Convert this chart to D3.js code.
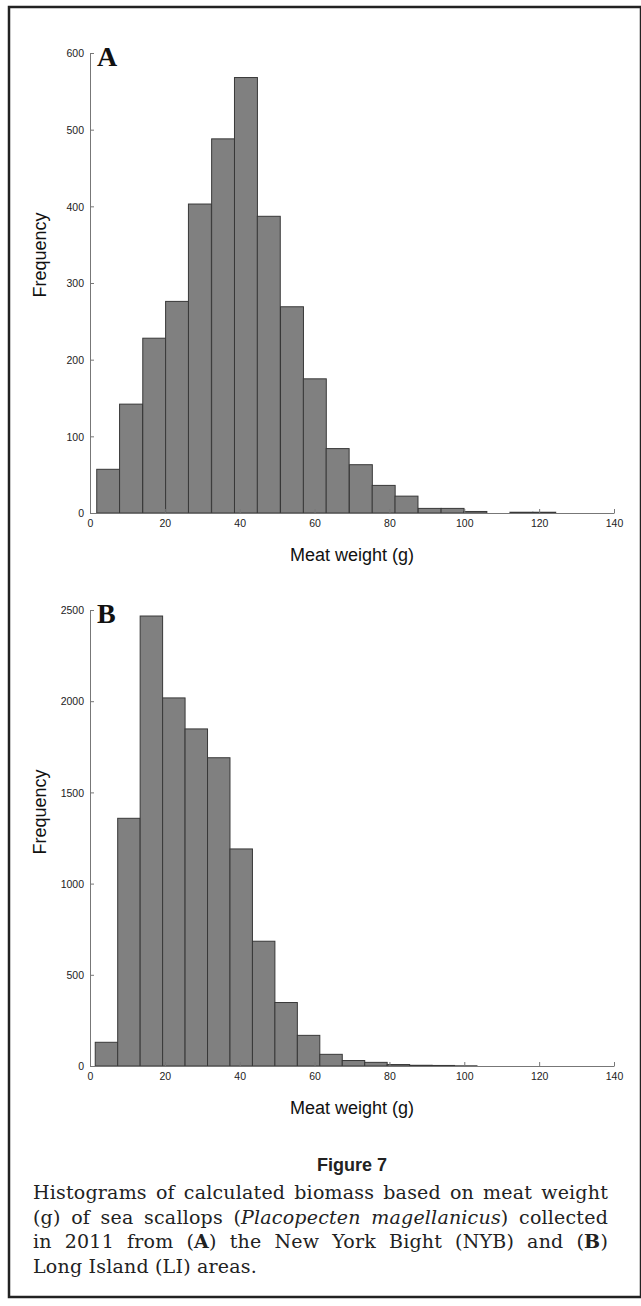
<!DOCTYPE html>
<html>
<head>
<meta charset="utf-8">
<script src="https://cdn.jsdelivr.net/npm/d3@7"></script>
<style>
  body { margin: 0; background: #fff; }
  svg { display: block; }
</style>
</head>
<body>
<div id="chart-area"></div>
<script>
// lower bin edges (g), bin widths and counts
var binsA = [1.8, 7.9, 14.1, 20.2, 26.3, 32.5, 38.6, 44.7, 50.9, 57.0, 63.1, 69.3, 75.4, 81.5, 87.7, 93.8, 99.9, 106.1, 112.2, 118.3];
var widthA = 6.13;
var countsA = [57, 142, 228, 276, 403, 488, 568, 387, 269, 175, 84, 63, 36, 22, 6, 6, 2, 0, 1, 1];

var binsB = [1.4, 7.4, 13.4, 19.4, 25.4, 31.4, 37.4, 43.4, 49.4, 55.4, 61.4, 67.4, 73.4, 79.4, 85.4, 91.4, 97.4, 103.4, 109.4, 115.4];
var widthB = 6.0;
var countsB = [130, 1358, 2467, 2018, 1848, 1690, 1190, 684, 348, 168, 64, 30, 20, 8, 4, 3, 1, 0, 0, 0];

var xTicks = [0, 20, 40, 60, 80, 100, 120, 140];
var yTicksA = [0, 100, 200, 300, 400, 500, 600];
var yTicksB = [0, 500, 1000, 1500, 2000, 2500];

var captionLines = [
    [["Histograms of calculated biomass based on meat weight", ""]],
    [["(g) of sea scallops (", ""], ["Placopecten magellanicus", "i"], [") collected", ""]],
    [["in 2011 from (", ""], ["A", "b"], [") the New York Bight (NYB) and (", ""], ["B", "b"], [")", ""]],
    [["Long Island (LI) areas.", ""]]
];

var W = 641, H = 1306;

var svg = d3.select("#chart-area")
    .append("svg")
    .attr("width", W)
    .attr("height", H);

// outer frame
svg.append("rect")
    .attr("x", 9).attr("y", 7)
    .attr("width", 632).attr("height", 1290)
    .attr("fill", "none")
    .attr("stroke", "#222")
    .attr("stroke-width", 2.5);

var x = d3.scaleLinear().domain([0, 140]).range([90, 614]);

function drawPanel(bins, bw, counts, yMax, yTop, yBottom, yTicks, letter, ylabelY)
{
    var y = d3.scaleLinear().domain([0, yMax]).range([yBottom, yTop]);
    var g = svg.append("g");

    g.selectAll(".bar")
        .data(counts)
        .enter()
        .append("rect")
        .attr("x", function(d, i){ return x(bins[i]); })
        .attr("width", function(d, i){ return x(bins[i] + bw) - x(bins[i]); })
        .attr("y", function(d){ return y(d); })
        .attr("height", function(d){ return y(0) - y(d); })
        .attr("fill", "#808080")
        .attr("stroke", "#383838")
        .attr("stroke-width", 1);

    var xAxis = g.append("g")
        .attr("transform", "translate(0," + yBottom + ")")
        .call(d3.axisBottom(x).tickValues(xTicks).tickFormat(d3.format("d"))
            .tickSizeInner(-4).tickSizeOuter(0).tickPadding(7));

    var yAxis = g.append("g")
        .attr("transform", "translate(90,0)")
        .call(d3.axisLeft(y).tickValues(yTicks).tickFormat(d3.format("d"))
            .tickSizeInner(-4).tickSizeOuter(0).tickPadding(6));

    [xAxis, yAxis].forEach(function(a){
        a.select(".domain").attr("stroke", "#777").attr("stroke-width", 1);
        a.selectAll(".tick line").attr("stroke", "#777");
        a.selectAll(".tick text")
            .attr("fill", "#222")
            .style("font-family", "'Liberation Sans', Arial, sans-serif")
            .style("font-size", "10.5px");
    });
    yAxis.selectAll(".tick text").attr("dy", "0.35em");

    g.append("text")
        .attr("x", x(1.9)).attr("y", yTop + 13)
        .style("font-family", "'Liberation Serif', 'Times New Roman', serif")
        .style("font-weight", "bold")
        .style("font-size", "28px")
        .attr("fill", "#111")
        .text(letter);

    g.append("text")
        .attr("transform", "translate(46," + ylabelY + ") rotate(-90)")
        .attr("text-anchor", "middle")
        .style("font-family", "'Liberation Sans', Arial, sans-serif")
        .style("font-size", "18px")
        .attr("fill", "#111")
        .text("Frequency");

    g.append("text")
        .attr("x", 352).attr("y", yBottom + 48)
        .attr("text-anchor", "middle")
        .style("font-family", "'Liberation Sans', Arial, sans-serif")
        .style("font-size", "18px")
        .attr("fill", "#111")
        .text("Meat weight (g)");
}

drawPanel(binsA, widthA, countsA, 600, 53, 513, yTicksA, "A", 255);
drawPanel(binsB, widthB, countsB, 2500, 610, 1066, yTicksB, "B", 812);

svg.append("text")
    .attr("x", 352).attr("y", 1171)
    .attr("text-anchor", "middle")
    .style("font-family", "'Liberation Sans', Arial, sans-serif")
    .style("font-weight", "bold")
    .style("font-size", "18px")
    .attr("fill", "#222")
    .text("Figure 7");

// justified caption
var capLeft = 33, capRight = 608, capTop = 1199, capStep = 24.5;
captionLines.forEach(function(parts, li){
    var t = svg.append("text")
        .attr("x", capLeft)
        .attr("y", capTop + li * capStep)
        .style("font-family", "'DejaVu Serif', 'Liberation Serif', serif")
        .style("font-size", "19px")
        .style("letter-spacing", "0.2px")
        .attr("fill", "#222");
    parts.forEach(function(p){
        var s = t.append("tspan").text(p[0]);
        if (p[1] == "i") s.style("font-style", "italic");
        if (p[1] == "b") s.style("font-weight", "bold");
    });
    if (li < captionLines.length - 1) {
        var natural = t.node().getComputedTextLength();
        var full = parts.map(function(p){ return p[0]; }).join("");
        var spaces = full.split(" ").length - 1;
        t.style("word-spacing", ((capRight - capLeft - natural) / spaces) + "px");
    }
});
</script>
</body>
</html>
